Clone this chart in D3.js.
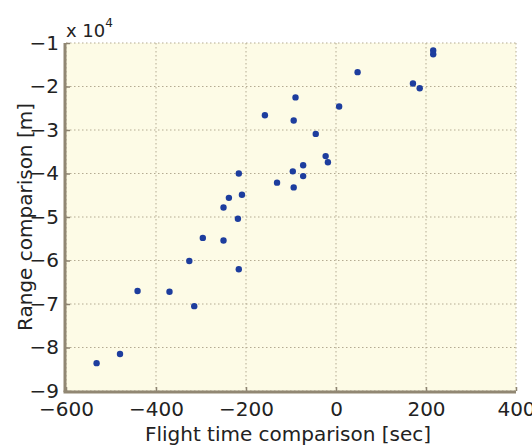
<!DOCTYPE html>
<html>
<head>
<meta charset="utf-8">
<script src="https://cdn.jsdelivr.net/npm/d3@7"></script>
<style>
  body { margin: 0; background: #fff; }
  text { font-family: "DejaVu Sans", "Noto Sans", sans-serif; fill: #222; }
</style>
</head>
<body>
<div id="figure"></div>
<script>
// flight time difference [sec]
var flightTime = [-532, -480, -441, -370, -326, -315, -216, -296, -250, -218,
    -250, -238, -209, -216, -158, -94, -90, -45, 7, -23,
    -18, -73, -96, -73, -131, -94, 48, 171, 186, 216, 216];
// range difference [m]
var rangeDiff = [-83600, -81500, -67000, -67200, -60100, -70500, -62000, -54800, -55400, -50400,
    -47800, -45600, -44900, -40000, -26600, -27800, -22500, -30900, -24600, -36000,
    -37400, -38100, -39500, -40600, -42100, -43200, -16700, -19300, -20400, -11700, -12600];

var xTicks = [-600, -400, -200, 0, 200, 400];
var yTicks = [-10000, -20000, -30000, -40000, -50000, -60000, -70000, -80000, -90000];

var width = 532, height = 445;
var margin = { left: 66, right: 16, top: 43, bottom: 54 };

var svg = d3.select("#figure")
    .append("svg")
    .attr("width", width)
    .attr("height", height);

var x = d3.scaleLinear()
    .domain([-600, 400])
    .range([margin.left, width - margin.right]);
var y = d3.scaleLinear()
    .domain([-90000, -10000])
    .range([height - margin.bottom, margin.top]);

// plot background
svg.append("rect")
    .attr("x", x(-600))
    .attr("y", y(-10000))
    .attr("width", x(400) - x(-600))
    .attr("height", y(-90000) - y(-10000))
    .attr("fill", "#fdfbe6");

// dotted grid
svg.append("g")
    .selectAll("line")
    .data(xTicks)
    .join("line")
    .attr("x1", d => x(d))
    .attr("x2", d => x(d))
    .attr("y1", y(-10000))
    .attr("y2", y(-90000))
    .attr("stroke", "#b4ab92")
    .attr("stroke-width", 1)
    .attr("stroke-dasharray", "1.5,2.5");
svg.append("g")
    .selectAll("line")
    .data(yTicks)
    .join("line")
    .attr("x1", x(-600))
    .attr("x2", x(400))
    .attr("y1", d => y(d))
    .attr("y2", d => y(d))
    .attr("stroke", "#b4ab92")
    .attr("stroke-width", 1)
    .attr("stroke-dasharray", "1.5,2.5");

// axes
var xAxis = svg.append("g")
    .attr("transform", "translate(0," + y(-90000) + ")")
    .call(d3.axisBottom(x).tickValues(xTicks).tickSize(-4).tickPadding(11)
        .tickFormat(d => String(d).replace("-", "\u2212")));
var yAxis = svg.append("g")
    .attr("transform", "translate(" + x(-600) + ",0)")
    .call(d3.axisLeft(y).tickValues(yTicks).tickSize(-4).tickPadding(7)
        .tickFormat(d => String(d / 10000).replace("-", "\u2212")));

[xAxis, yAxis].forEach(function (g) {
    g.select(".domain").remove();
    g.selectAll(".tick line").attr("stroke", "#8c8370").attr("stroke-width", 1.5);
    g.selectAll(".tick text").attr("font-size", 20).attr("fill", "#222")
        .attr("font-family", "DejaVu Sans, sans-serif");
});

// thick box lines on left and bottom
svg.append("line")
    .attr("x1", x(-600) - 1).attr("x2", x(-600) - 1)
    .attr("y1", y(-10000)).attr("y2", y(-90000) + 1)
    .attr("stroke", "#918773").attr("stroke-width", 3);
svg.append("line")
    .attr("x1", x(-600) - 2.5).attr("x2", x(400))
    .attr("y1", y(-90000) + 1).attr("y2", y(-90000) + 1)
    .attr("stroke", "#918773").attr("stroke-width", 3);

// points
svg.append("g")
    .selectAll("circle")
    .data(flightTime)
    .join("circle")
    .attr("cx", d => x(d))
    .attr("cy", (d, i) => y(rangeDiff[i]))
    .attr("r", 3.2)
    .attr("fill", "#1d3d9e");

// exponent label
var expo = svg.append("text")
    .attr("x", x(-600))
    .attr("y", 37)
    .attr("font-size", 18);
expo.append("tspan").text("x 10");
expo.append("tspan").attr("dy", -10).attr("font-size", 12).text("4");

// axis titles
svg.append("text")
    .attr("x", (x(-600) + x(400)) / 2 - 3)
    .attr("y", 441)
    .attr("text-anchor", "middle")
    .attr("font-size", 20)
    .text("Flight time comparison [sec]");
svg.append("text")
    .attr("transform", "translate(32," + ((y(-10000) + y(-90000)) / 2) + ") rotate(-90)")
    .attr("text-anchor", "middle")
    .attr("font-size", 20)
    .text("Range comparison [m]");
</script>
</body>
</html>
